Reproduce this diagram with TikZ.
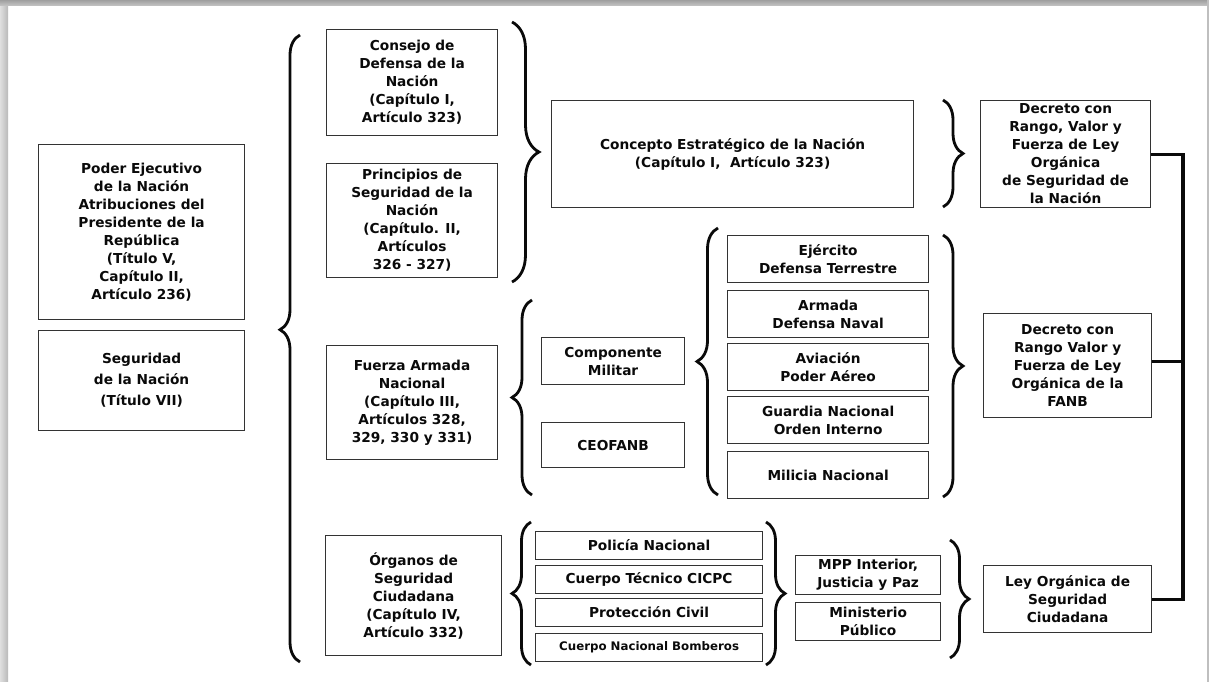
\documentclass[tikz,border=0pt]{standalone}
\usepackage{fontspec}
\setmainfont{DejaVu Sans}
\usetikzlibrary{decorations.pathreplacing,calc}
\definecolor{ink}{HTML}{0A0A0A}
\definecolor{frame}{HTML}{333333}
\newcommand{\boxfont}{\fontsize{13.7}{18}\selectfont\bfseries}
\tikzset{
  box/.style={draw=frame,line width=1.2pt,fill=white,align=center,inner sep=0pt,text=ink,font=\boxfont,anchor=north west},
  smallbox/.style={box,font=\fontsize{11.8}{14}\selectfont\bfseries},
  curly/.style={decorate,decoration={brace,amplitude=#1},line width=2.8pt,draw=ink},
  bus/.style={line width=3.2pt,draw=ink},
}

\begin{document}
\begin{tikzpicture}[x=1pt,y=-1pt]
  \useasboundingbox (0,0) rectangle (1209,682);
  % page shadow
  \shade[left color=gray!25,right color=gray!55] (0,0) rectangle (8,682);
  \shade[top color=gray!75,bottom color=gray!45] (0,0) rectangle (1209,6);
  \fill[gray!50] (1207,0) rectangle (1209,682);

  % left column
  \node[box,minimum width=206,minimum height=175] (poder) at (38,144) {Poder Ejecutivo\\de la Nación\\Atribuciones del\\Presidente de la\\República\\(Título V,\\Capítulo II,\\Artículo 236)};
  \node[box,minimum width=206,minimum height=100] (segnac) at (38,330) {Seguridad\\[3pt]de la Nación\\[3pt](Título VII)};
  \draw[curly=20pt,decoration={aspect=0.53}] (300,662) -- (300,35);

  % upper branch
  \node[box,minimum width=171,minimum height=106] (consejo) at (326,29) {Consejo de\\Defensa de la\\Nación\\(Capítulo I,\\Artículo 323)};
  \node[box,minimum width=171,minimum height=114] (principios) at (326,163) {Principios de\\Seguridad de la\\Nación\\(Capítulo. II,\\Artículos\\326 - 327)};
  \draw[curly=27pt] (512,22) -- (512,282);
  \node[box,minimum width=362,minimum height=107] (concepto) at (551,100) {Concepto Estratégico de la Nación\\(Capítulo I,~ Artículo 323)};
  \draw[curly=20pt] (943,100) -- (943,207);
  \node[box,minimum width=170,minimum height=107] (dlsn) at (980,100) {Decreto con\\Rango, Valor y\\Fuerza de Ley\\Orgánica\\de Seguridad de\\la Nación};

  % armed forces branch
  \node[box,minimum width=171,minimum height=114] (fuerza) at (326,345) {Fuerza Armada\\Nacional\\(Capítulo III,\\Artículos 328,\\329, 330 y 331)};
  \draw[curly=20pt] (532,495) -- (532,300);
  \node[box,minimum width=143,minimum height=47] (compmil) at (541,337) {Componente\\Militar};
  \node[box,minimum width=143,minimum height=45] (ceofanb) at (541,422) {CEOFANB};
  \draw[curly=21pt] (718,495) -- (718,228);
  \foreach \n/\y/\t in {ejer/235/{Ejército\\Defensa Terrestre}, arm/290/{Armada\\Defensa Naval}, avi/343/{Aviación\\Poder Aéreo}, guar/396/{Guardia Nacional\\Orden Interno}, mil/451/{Milicia Nacional}} {
    \node[box,minimum width=201,minimum height=47] (\n) at (727,\y) {\t};
  }
  \draw[curly=20pt] (943,235) -- (943,497);
  \node[box,minimum width=168,minimum height=104] (fanb) at (983,313) {Decreto con\\Rango Valor y\\Fuerza de Ley\\Orgánica de la\\FANB};

  % citizen security branch
  \node[box,minimum width=176,minimum height=120] (organos) at (325,535) {Órganos de\\Seguridad\\Ciudadana\\(Capítulo IV,\\Artículo 332)};
  \draw[curly=19pt] (531,665) -- (531,522);
  \foreach \n/\y/\t in {poli/531/{Policía Nacional}, cicpc/565/{Cuerpo Técnico CICPC}, pciv/598/{Protección Civil}} {
    \node[box,minimum width=227,minimum height=28] (\n) at (535,\y) {\t};
  }
  \node[smallbox,minimum width=227,minimum height=28] (bomb) at (535,633) {Cuerpo Nacional Bomberos};
  \draw[curly=19pt] (766,522) -- (766,665);
  \node[box,minimum width=145,minimum height=39] (mpp) at (795,555) {MPP Interior,\\Justicia y Paz};
  \node[box,minimum width=145,minimum height=38] (minpub) at (795,602) {Ministerio\\Público};
  \draw[curly=19pt] (950,540) -- (950,658);
  \node[box,minimum width=168,minimum height=67] (ley) at (983,565) {Ley Orgánica de\\Seguridad\\Ciudadana};

  % links between the laws
  \coordinate (busx) at (1183,0);
  \draw[bus] (dlsn.east) -- (dlsn.east -| busx) -- (ley.east -| busx) -- (ley.east);
  \draw[bus] ([yshift=4pt]fanb.east) -- ([yshift=4pt]fanb.east -| busx);
\end{tikzpicture}
\end{document}
